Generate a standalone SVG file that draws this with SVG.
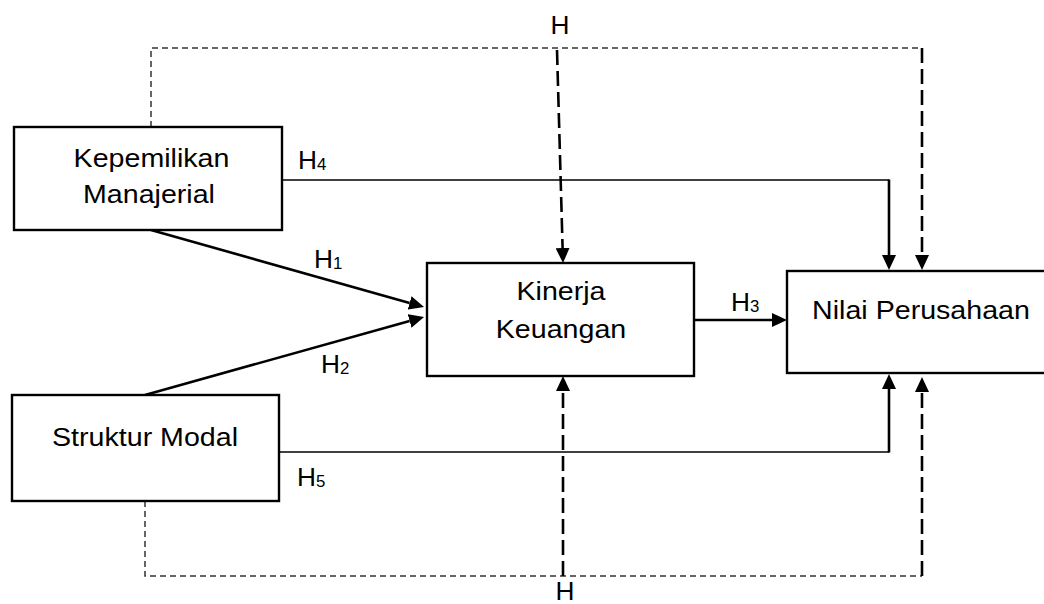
<svg xmlns="http://www.w3.org/2000/svg" width="1044" height="604" viewBox="0 0 1044 604">
<style>
.box{fill:#fff;stroke:#000;stroke-width:2.4}
.t{font-family:"Liberation Sans",Arial,sans-serif;font-size:26px;fill:#000;text-anchor:middle}
.h{font-family:"Liberation Sans",Arial,sans-serif;font-size:25px;fill:#000}
.sub{font-size:16px}
.solid{fill:none;stroke:#000;stroke-width:2.6}
.thin{fill:none;stroke:#000;stroke-width:1.3}
.dthin{fill:none;stroke:#333;stroke-width:1.5;stroke-dasharray:6 4}
.dthick{fill:none;stroke:#000;stroke-width:2.6;stroke-dasharray:15 6}
</style>
<defs>
<marker id="arr" viewBox="0 -7 15 14" markerWidth="15" markerHeight="14" refX="0" refY="0" orient="auto" markerUnits="userSpaceOnUse">
<path d="M0,-7 L15,0 L0,7 z" fill="#000"/>
</marker>
</defs>
<rect width="1044" height="604" fill="#fff"/>
<g id="connectors">
<path class="dthin" d="M151,127 V48 H922"/>
<path class="dthick" d="M922,48 V255" marker-end="url(#arr)"/>
<path class="dthick" d="M557,50 L562.6,248" marker-end="url(#arr)"/>
<path class="thin" d="M282,180 H889"/>
<path class="solid" d="M889,179.5 V255" marker-end="url(#arr)"/>
<path class="solid" d="M151,230 L409.6,302.9" marker-end="url(#arr)"/>
<path class="solid" d="M145,395 L409.6,321" marker-end="url(#arr)"/>
<path class="solid" d="M694,320 H772" marker-end="url(#arr)"/>
<path class="thin" d="M279,452 H889"/>
<path class="solid" d="M889,452.5 V389" marker-end="url(#arr)"/>
<path class="dthin" d="M145,501 V576 H922"/>
<path class="dthick" d="M922,576 V392" marker-end="url(#arr)"/>
<path class="dthick" d="M563,576 V391" marker-end="url(#arr)"/>
</g>
<g id="n-kepemilikan">
<rect class="box" x="14" y="127" width="268" height="103"/>
<text class="t" transform="translate(151.5,166.5) scale(1.1,1)">Kepemilikan</text>
<text class="t" transform="translate(149,203) scale(1.1,1)">Manajerial</text>
</g>
<g id="n-struktur">
<rect class="box" x="12" y="395" width="267" height="106"/>
<text class="t" transform="translate(145,445.5) scale(1.1,1)">Struktur Modal</text>
</g>
<g id="n-kinerja">
<rect class="box" x="427" y="263" width="267" height="113"/>
<text class="t" transform="translate(561,300) scale(1.1,1)">Kinerja</text>
<text class="t" transform="translate(561,338) scale(1.1,1)">Keuangan</text>
</g>
<g id="n-nilai">
<rect class="box" x="787" y="271" width="270" height="102"/>
<text class="t" transform="translate(921,318.5) scale(1.1,1)">Nilai Perusahaan</text>
</g>
<g id="labels">
<text class="h" transform="translate(560,34) scale(1.05,1)" text-anchor="middle">H</text>
<text class="h" transform="translate(565,600) scale(1.05,1)" text-anchor="middle">H</text>
<text class="h" transform="translate(298,168.5) scale(1.05,1)">H<tspan class="sub" dy="1">4</tspan></text>
<text class="h" transform="translate(314,268) scale(1.05,1)">H<tspan class="sub" dy="1">1</tspan></text>
<text class="h" transform="translate(321,373) scale(1.05,1)">H<tspan class="sub" dy="1">2</tspan></text>
<text class="h" transform="translate(731,310.5) scale(1.05,1)">H<tspan class="sub" dy="1">3</tspan></text>
<text class="h" transform="translate(297,485.5) scale(1.05,1)">H<tspan class="sub" dy="1">5</tspan></text>
</g>
</svg>
